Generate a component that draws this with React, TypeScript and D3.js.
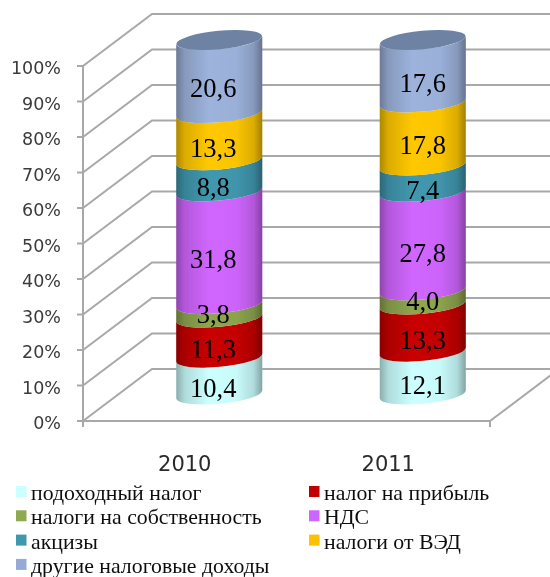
import React from "react";
import * as d3 from "d3";

const years = ["2010", "2011"];
const seriesNames = ["подоходный налог", "налог на прибыль", "налоги на собственность", "НДС", "акцизы", "налоги от ВЭД", "другие налоговые доходы"];
const values2010 = [10.4, 11.3, 3.8, 31.8, 8.8, 13.3, 20.6];
const values2011 = [12.1, 13.3, 4.0, 27.8, 7.4, 17.8, 17.6];
const colors = ["#CCFFFF", "#C80000", "#8EA64F", "#D066FF", "#4198AF", "#FFC800", "#9DB3DC"];
const legendColors = ["#CCFFFF", "#C00000", "#8EA94F", "#CC66FF", "#4198AF", "#FFC000", "#95ABD5"];
const yTicks = [0, 10, 20, 30, 40, 50, 60, 70, 80, 90, 100];
const labelShift = [-6, 0];

const W = 550, H = 577;
const GRID = "#A8A8A8";
const frontY = d3.scaleLinear().domain([0, 100]).range([421, 66]);
const depthX = 69, depthY = -52;
const x = d3.scaleBand().domain(years).range([83, 490]);
const barY = d3.scaleLinear().domain([0, 100]).range([394.5, 40]);
const RX = 43, RY = 9.2, ROT = -5.4, TILT = 4;

const rows = years.map((y, i) => {
  const src = i === 0 ? values2010 : values2011;
  const o: Record<string, number | string> = { year: y };
  seriesNames.forEach((s, j) => { o[s] = src[j]; });
  return o;
});
const stacked = d3.stack<any>().keys(seriesNames)(rows);
const fmt = (v: number) => v.toFixed(1).replace(".", ",");

function segPath(cx: number, v0: number, v1: number) {
  const l = cx - RX, r = cx + RX;
  const y0 = barY(v0), y1 = barY(v1);
  const a = `${RX} ${RY} ${ROT}`;
  return `M${l},${y0 + TILT}A${a} 0 0 ${r},${y0 - TILT}L${r},${y1 - TILT}A${a} 0 1 ${l},${y1 + TILT}Z`;
}

export default function App() {
  const sans = "'DejaVu Sans', sans-serif";
  const serif = "'Liberation Serif', serif";
  return (
    <svg width={W} height={H} viewBox={`0 0 ${W} ${H}`} style={{ position: "absolute", left: 0, top: 0, background: "#fff" }}>
      <defs>
        <linearGradient id="shade" x1="0" x2="1" y1="0" y2="0">
          <stop offset="0" stopColor="#000" stopOpacity="0.32" />
          <stop offset="0.1" stopColor="#000" stopOpacity="0.14" />
          <stop offset="0.38" stopColor="#000" stopOpacity="0" />
          <stop offset="0.7" stopColor="#000" stopOpacity="0.02" />
          <stop offset="0.9" stopColor="#000" stopOpacity="0.14" />
          <stop offset="1" stopColor="#000" stopOpacity="0.36" />
        </linearGradient>
        <filter id="soft" x="-5%" y="-5%" width="110%" height="110%">
          <feGaussianBlur stdDeviation="0.4" />
        </filter>
      </defs>
      <g filter="url(#soft)">
        {yTicks.map((t) => (
          <g key={t} stroke={GRID} strokeWidth={2} fill="none">
            <polyline points={`${83},${frontY(t)} ${83 + depthX},${frontY(t) + depthY} ${W},${frontY(t) + depthY}`} />
            <line x1={77} x2={83} y1={frontY(t)} y2={frontY(t)} />
          </g>
        ))}
        <line x1={83} x2={83} y1={frontY(100)} y2={frontY(0) + 6} stroke={GRID} strokeWidth={2} />
        <line x1={83} x2={490} y1={frontY(0)} y2={frontY(0)} stroke={GRID} strokeWidth={2} />
        <line x1={490} x2={490} y1={frontY(0)} y2={frontY(0) + 6} stroke={GRID} strokeWidth={2} />
        <line x1={490} x2={490 + depthX} y1={frontY(0)} y2={frontY(0) + depthY} stroke={GRID} strokeWidth={2} />

        {yTicks.map((t) => (
          <text key={t} x={61} y={frontY(t) + 8} textAnchor="end" fontFamily={sans} fontSize={17.5} fill="#3a3a3a">{t}%</text>
        ))}

        {years.map((yr, i) => {
          const cx = x(yr)! + x.bandwidth() / 2 + 34.5;
          return (
            <g key={yr}>
              {stacked.map((s, j) => {
                const [v0, v1] = s[i];
                const d = segPath(cx, v0, v1);
                return (
                  <g key={s.key}>
                    <path d={d} fill={colors[j]} />
                    <path d={d} fill="url(#shade)" />
                  </g>
                );
              })}
              <ellipse cx={cx} cy={barY(100)} rx={RX} ry={RY} transform={`rotate(${ROT} ${cx} ${barY(100)})`} fill="#6E83A3" />
              {stacked.map((s, j) => {
                const [v0, v1] = s[i];
                const v = v1 - v0;
                return (
                  <text key={s.key} x={cx + labelShift[i]} y={barY((v0 + v1) / 2) + (v < 5 ? 4 : 12) + 8.5} textAnchor="middle" fontFamily={serif} fontSize={26.5} fill="#000">{fmt(v)}</text>
                );
              })}
              <text x={x(yr)! + x.bandwidth() / 2} y={471} textAnchor="middle" fontFamily={sans} fontSize={21} fill="#2a2a2a">{yr}</text>
            </g>
          );
        })}

        {seriesNames.map((s, j) => {
          const col = j === 6 ? 0 : j % 2;
          const row = Math.floor(j / 2);
          const ly = 493 + row * 24.3;
          const lx = col === 0 ? 16 : 309;
          return (
            <g key={s}>
              <rect x={lx} y={ly - 7} width={10.5} height={11} fill={legendColors[j]} />
              <text x={lx + 15} y={ly + 7} fontFamily={serif} fontSize={21.8} fill="#111">{s}</text>
            </g>
          );
        })}
      </g>
    </svg>
  );
}
